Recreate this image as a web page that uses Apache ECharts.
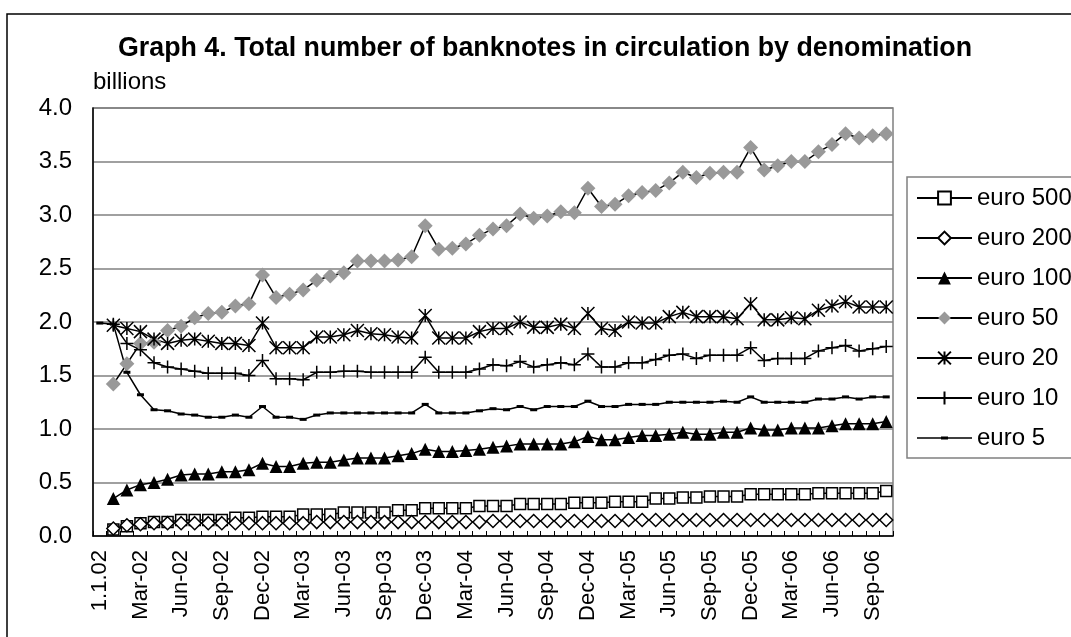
<!DOCTYPE html>
<html>
<head>
	<meta charset="UTF-8">
	<title>Graph 4. Total number of banknotes in circulation by denomination</title>
	<script src="https://cdn.jsdelivr.net/npm/echarts@6/dist/echarts.min.js"></script>
	<style>
		html, body { margin: 0; padding: 0; background: #fff; }
		#chart { width: 1071px; height: 637px; }
	</style>
</head>
<body>
	<div id="chart"></div>
	<script>
		// month labels, first one is the changeover day
		var months = ['1.1.02',
			'Jan-02','Feb-02','Mar-02','Apr-02','May-02','Jun-02','Jul-02','Aug-02','Sep-02','Oct-02','Nov-02','Dec-02',
			'Jan-03','Feb-03','Mar-03','Apr-03','May-03','Jun-03','Jul-03','Aug-03','Sep-03','Oct-03','Nov-03','Dec-03',
			'Jan-04','Feb-04','Mar-04','Apr-04','May-04','Jun-04','Jul-04','Aug-04','Sep-04','Oct-04','Nov-04','Dec-04',
			'Jan-05','Feb-05','Mar-05','Apr-05','May-05','Jun-05','Jul-05','Aug-05','Sep-05','Oct-05','Nov-05','Dec-05',
			'Jan-06','Feb-06','Mar-06','Apr-06','May-06','Jun-06','Jul-06','Aug-06','Sep-06','Oct-06'];

		var yTicks = [0, 4, 0.5]; // min, max, step

		// billions of banknotes
		var euro500 = [null,
			0.06,0.09,0.12,0.13,0.13,0.15,0.15,0.15,0.15,0.17,
			0.17,0.18,0.18,0.18,0.20,0.20,0.20,0.22,0.22,0.22,
			0.22,0.24,0.24,0.26,0.26,0.26,0.26,0.28,0.28,0.28,
			0.30,0.30,0.30,0.30,0.31,0.31,0.31,0.32,0.32,0.32,
			0.35,0.35,0.36,0.36,0.37,0.37,0.37,0.39,0.39,0.39,
			0.39,0.39,0.40,0.40,0.40,0.40,0.40,0.42];
		var euro200 = [null,
			0.07,0.10,0.11,0.12,0.12,0.12,0.12,0.12,0.12,0.12,
			0.12,0.12,0.12,0.12,0.12,0.13,0.13,0.13,0.13,0.13,
			0.13,0.13,0.13,0.13,0.13,0.13,0.13,0.13,0.14,0.14,
			0.14,0.14,0.14,0.14,0.14,0.14,0.14,0.14,0.15,0.15,
			0.15,0.15,0.15,0.15,0.15,0.15,0.15,0.15,0.15,0.15,
			0.15,0.15,0.15,0.15,0.15,0.15,0.15,0.15];
		var euro100 = [null,
			0.35,0.43,0.48,0.50,0.53,0.57,0.58,0.58,0.60,0.60,
			0.62,0.68,0.65,0.65,0.68,0.69,0.69,0.71,0.73,0.73,
			0.73,0.75,0.77,0.81,0.79,0.79,0.80,0.81,0.83,0.84,
			0.86,0.86,0.86,0.86,0.88,0.93,0.90,0.90,0.92,0.94,
			0.94,0.95,0.97,0.95,0.95,0.97,0.97,1.01,0.99,0.99,
			1.01,1.01,1.01,1.03,1.05,1.05,1.05,1.07];
		var euro50 = [null,
			1.42,1.61,1.80,1.81,1.92,1.96,2.04,2.08,2.09,2.15,
			2.17,2.44,2.23,2.26,2.30,2.39,2.43,2.46,2.57,2.57,
			2.57,2.58,2.61,2.90,2.68,2.69,2.73,2.81,2.87,2.90,
			3.01,2.97,2.99,3.03,3.02,3.25,3.08,3.10,3.18,3.21,
			3.23,3.30,3.40,3.35,3.39,3.40,3.40,3.63,3.42,3.46,
			3.50,3.50,3.59,3.66,3.76,3.72,3.74,3.76];
		var euro20 = [null,
			1.97,1.94,1.91,1.84,1.80,1.83,1.84,1.82,1.80,1.80,
			1.78,1.99,1.76,1.76,1.76,1.86,1.86,1.88,1.92,1.89,
			1.88,1.86,1.85,2.06,1.85,1.85,1.85,1.91,1.94,1.94,
			2.00,1.95,1.95,1.98,1.94,2.08,1.94,1.92,2.00,1.99,
			1.99,2.05,2.09,2.05,2.05,2.05,2.03,2.17,2.02,2.02,
			2.04,2.03,2.11,2.15,2.19,2.14,2.14,2.14];
		var euro10 = [null,
			1.98,1.80,1.74,1.62,1.58,1.56,1.54,1.52,1.52,1.52,
			1.50,1.64,1.47,1.47,1.46,1.53,1.53,1.54,1.54,1.53,
			1.53,1.53,1.53,1.67,1.53,1.53,1.53,1.56,1.60,1.59,
			1.63,1.58,1.60,1.62,1.60,1.70,1.58,1.58,1.62,1.62,
			1.65,1.69,1.70,1.66,1.69,1.69,1.69,1.76,1.64,1.66,
			1.66,1.66,1.73,1.76,1.78,1.73,1.75,1.77];
		var euro5 = [1.99,
			1.98,1.53,1.32,1.18,1.17,1.14,1.13,1.11,1.11,1.13,
			1.11,1.21,1.11,1.11,1.09,1.13,1.15,1.15,1.15,1.15,
			1.15,1.15,1.15,1.23,1.15,1.15,1.15,1.17,1.19,1.18,
			1.21,1.18,1.21,1.21,1.21,1.26,1.21,1.21,1.23,1.23,
			1.23,1.25,1.25,1.25,1.25,1.26,1.25,1.30,1.25,1.25,
			1.25,1.25,1.28,1.28,1.30,1.28,1.30,1.30];

		var font = "'Liberation Sans', Arial, sans-serif";
		var starPath = 'path://M0,0L10,10M10,0L0,10M5,0L5,10';
		var plusPath = 'path://M5,0L5,10M0,5L10,5';
		// legend icon for euro 5: thin line with a short dash in the middle
		var dashIcon = 'path://M0,0.75h55v1.5h-55z M24,0h7v3h-7z';

		function mkSeries(name, data, symbol, size, fill, stroke) {
			return {
				name: name,
				type: 'line',
				data: data,
				symbol: symbol,
				symbolSize: size,
				showAllSymbol: true,
				connectNulls: false,
				animation: false,
				lineStyle: { color: '#000', width: 1.5 },
				itemStyle: {
					color: fill,
					borderColor: stroke,
					borderWidth: stroke ? 1.5 : 0
				}
			};
		}

		var myChart = echarts.init(document.getElementById('chart'), null, { renderer: 'canvas' });

		var option = {
			backgroundColor: '#fff',
			animation: false,
			textStyle: { fontFamily: font, color: '#000' },
			title: {
				text: 'Graph 4. Total number of banknotes in circulation by denomination',
				left: 118,
				top: 35,
				padding: 0,
				textStyle: { fontFamily: font, fontSize: 26.8, fontWeight: 'bold', color: '#000' }
			},
			graphic: [{
				type: 'rect',
				shape: { x: 7, y: 14, width: 1100, height: 700 },
				style: { fill: 'none', stroke: '#000', lineWidth: 1.5 },
				silent: true
			}],
			legend: {
				orient: 'vertical',
				left: 907,
				top: 177,
				padding: [7, 30, 6, 9],
				itemWidth: 55,
				itemHeight: 16,
				itemGap: 12,
				borderColor: '#808080',
				borderWidth: 1.5,
				backgroundColor: '#fff',
				textStyle: { fontFamily: font, fontSize: 24, color: '#000', lineHeight: 28 },
				data: ['euro 500', 'euro 200', 'euro 100', 'euro 50', 'euro 20', 'euro 10',
					{ name: 'euro 5', icon: dashIcon }]
			},
			grid: {
				left: 93,
				right: 178,
				top: 108,
				bottom: 101,
				show: true,
				borderColor: '#808080',
				borderWidth: 1.5,
				containLabel: false
			},
			xAxis: {
				type: 'category',
				data: months,
				boundaryGap: true,
				axisLine: { show: true, lineStyle: { color: '#000', width: 1.5 } },
				axisTick: { show: true, inside: true, length: 5, interval: 0, lineStyle: { color: '#000', width: 1 } },
				axisLabel: {
					interval: 2,
					rotate: 90,
					margin: 14,
					fontFamily: font,
					fontSize: 22,
					color: '#000'
				},
				splitLine: { show: false }
			},
			yAxis: {
				type: 'value',
				min: yTicks[0],
				max: yTicks[1],
				interval: yTicks[2],
				name: 'billions',
				nameLocation: 'end',
				nameGap: 14,
				nameTextStyle: { fontFamily: font, fontSize: 24, color: '#000', align: 'left' },
				axisLine: { show: true, lineStyle: { color: '#000', width: 1.5 } },
				axisTick: { show: false },
				axisLabel: {
					margin: 21,
					fontFamily: font,
					fontSize: 24,
					color: '#000',
					formatter: function (v) { return v.toFixed(1); }
				},
				splitLine: { show: true, lineStyle: { color: '#808080', width: 1.5 } }
			},
			series: [
				mkSeries('euro 500', euro500, 'rect', 11, '#fff', '#000'),
				mkSeries('euro 200', euro200, 'diamond', 13, '#fff', '#000'),
				mkSeries('euro 100', euro100, 'triangle', 13, '#000', null),
				mkSeries('euro 50', euro50, 'diamond', 15, '#999999', null),
				mkSeries('euro 20', euro20, starPath, 13, 'transparent', '#000'),
				mkSeries('euro 10', euro10, plusPath, 13, 'transparent', '#000'),
				mkSeries('euro 5', euro5, 'rect', [7, 3], '#000', null)
			]
		};

		myChart.setOption(option);
	</script>
</body>
</html>
